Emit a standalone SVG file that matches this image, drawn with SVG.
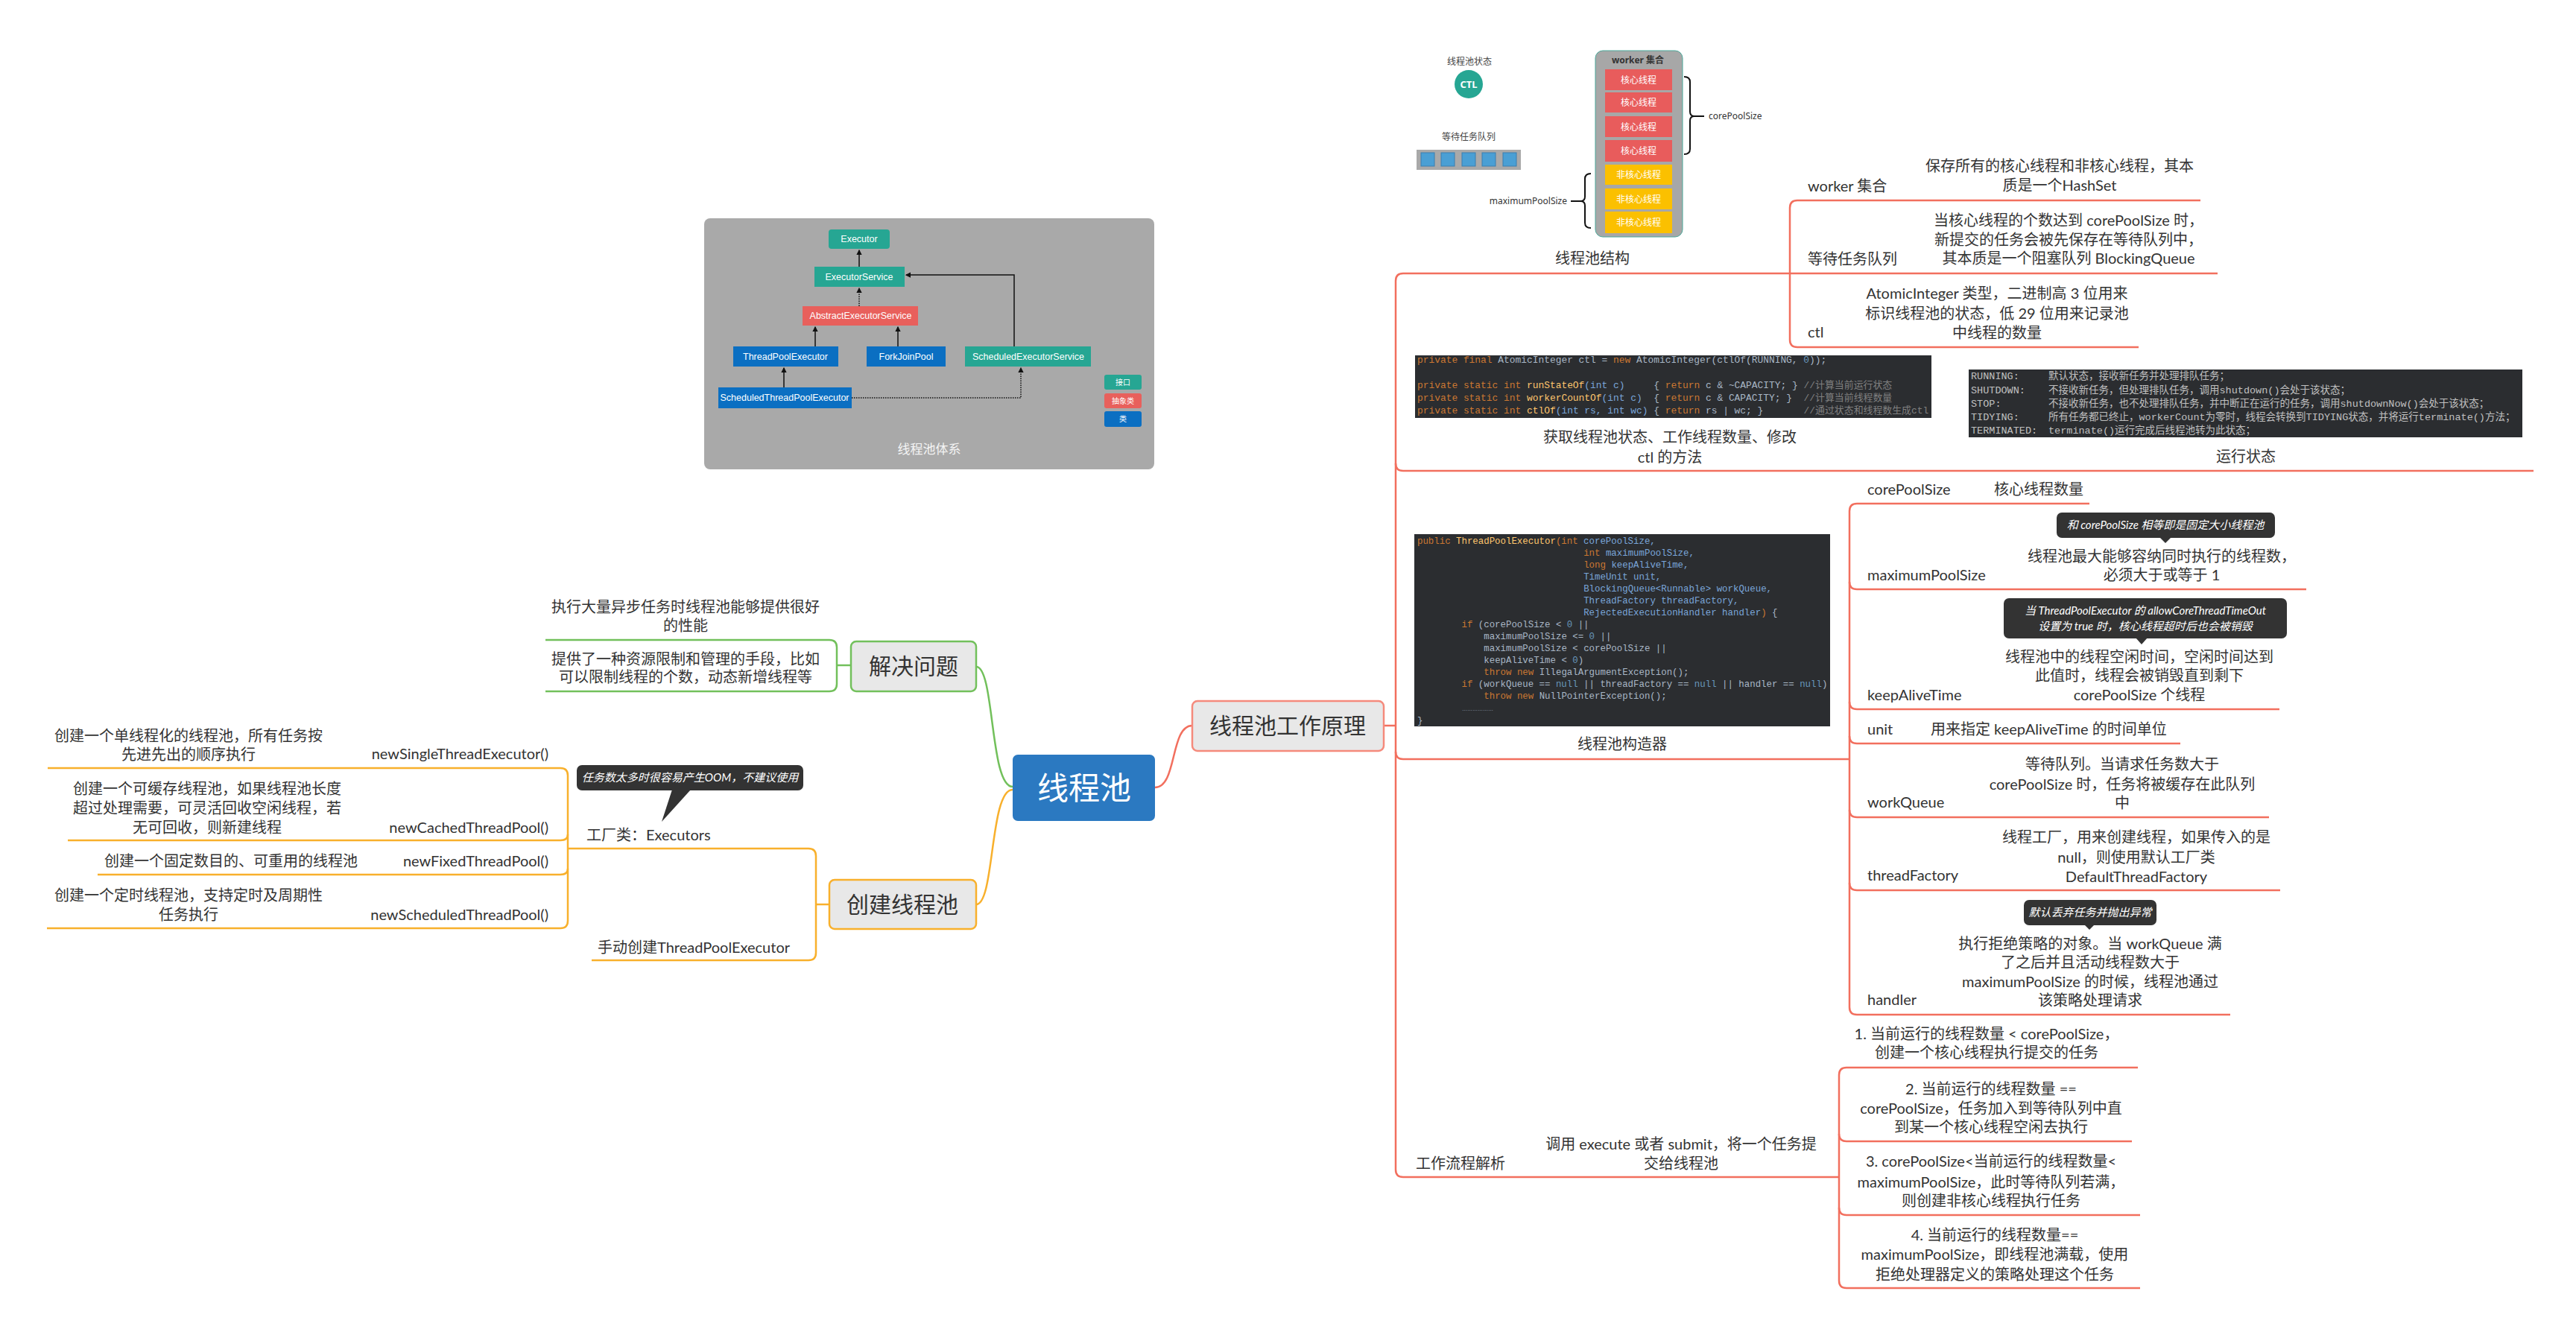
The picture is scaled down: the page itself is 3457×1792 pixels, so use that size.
<svg xmlns="http://www.w3.org/2000/svg" width="3457" height="1792" viewBox="0 0 3457 1792">
<defs>
<style>
.t{font-family:Lato,"Noto Sans CJK SC",sans-serif;font-size:20px;fill:#333}
.m{text-anchor:middle}
.e{text-anchor:end}
.lr{stroke:#f26f5e;fill:none;stroke-width:2.5}
.lg{stroke:#72c05b;fill:none;stroke-width:2.5}
.lo{stroke:#f8b02c;fill:none;stroke-width:2.5}
.topic{fill:#e8e8e8;stroke-width:2.5}
.tip{fill:#333}
.tipt{font-family:Lato,"Noto Sans CJK SC",sans-serif;font-size:15px;font-style:italic;fill:#fff;text-anchor:middle}
.code{font-family:"Liberation Mono","Noto Sans CJK SC",monospace}
.kw{fill:#cc7832}.pl{fill:#a9b7c6}.fn{fill:#ffc66d}.nu{fill:#6897bb}.pa{fill:#7aa6da}.cm{fill:#808080}
.hn{font-family:"Liberation Sans","Noto Sans CJK SC",sans-serif;font-size:12.5px;fill:#fff;text-anchor:middle}
.st{font-family:"Noto Sans","Noto Sans CJK SC",sans-serif;font-size:12px;text-anchor:middle}
.arr{stroke:#111;stroke-width:1.5;fill:none}
</style>
<marker id="ah" viewBox="0 0 6 6" refX="5" refY="3" markerWidth="5" markerHeight="5" orient="auto"><path d="M0,0 L6,3 L0,6z" fill="#111"/></marker>
</defs>
<rect width="3457" height="1792" fill="#fff"/>

<g id="connectors">
<path class="lr" d="M1550,1057 C1580,1057 1570,974 1600,974"/>
<path class="lg" d="M1359,1056 C1328,1056 1335,895 1310,895"/>
<path class="lo" d="M1359,1060 C1328,1060 1335,1214 1310,1214"/>
<path class="lg" d="M1142,893 H1123"/>
<path class="lg" d="M732,859 H1113 Q1123,859 1123,869 V918 Q1123,928 1113,928 H732"/>
<path class="lo" d="M1113,1214 H1095"/>
<path class="lo" d="M762,1139 H1085 Q1095,1139 1095,1149 V1279 Q1095,1289 1085,1289 H794"/>
<path class="lo" d="M64,1031 H752 Q762,1031 762,1041 V1236 Q762,1246 752,1246 H63"/>
<path class="lo" d="M91,1128 H752 Q762,1128 762,1120"/>
<path class="lo" d="M131,1174 H752 Q762,1174 762,1166"/>
<path class="lr" d="M1857,974 H1873"/>
<path class="lr" d="M2976,367 H1883 Q1873,367 1873,377 V1570 Q1873,1580 1883,1580 H2468"/>
<path class="lr" d="M1873,622 Q1873,632 1883,632 H3400"/>
<path class="lr" d="M1873,1009 Q1873,1019 1883,1019 H2482"/>
<path class="lr" d="M2953,269 H2412 Q2402,269 2402,279 V456 Q2402,466 2412,466 H2870"/>
<path class="lr" d="M2804,676 H2492 Q2482,676 2482,686 V1352 Q2482,1362 2492,1362 H2993"/>
<path class="lr" d="M2482,781 Q2482,791 2492,791 H3095"/>
<path class="lr" d="M2482,942 Q2482,952 2492,952 H3059"/>
<path class="lr" d="M2482,988 Q2482,998 2492,998 H2926"/>
<path class="lr" d="M2482,1087 Q2482,1097 2492,1097 H3045"/>
<path class="lr" d="M2482,1185 Q2482,1195 2492,1195 H3060"/>
<path class="lr" d="M2869,1433 H2478 Q2468,1433 2468,1443 V1719 Q2468,1729 2478,1729 H2872"/>
<path class="lr" d="M2468,1522 Q2468,1532 2478,1532 H2861"/>
<path class="lr" d="M2468,1621 Q2468,1631 2478,1631 H2872"/>
</g>

<g id="n-root">
<rect x="1359" y="1013" width="191" height="89" rx="7" fill="#2b79c1"/>
<text class="t m" x="1455" y="1073" style="font-size:42px;fill:#fff">线程池</text>
</g>

<g id="n-principle">
<rect class="topic" x="1600" y="941" width="257" height="67" rx="7" stroke="#f58a7c"/>
<text class="t m" x="1728" y="985" style="font-size:30px">线程池工作原理</text>
</g>

<g id="n-solve">
<rect class="topic" x="1142" y="861" width="168" height="67" rx="7" stroke="#72c05b"/>
<text class="t m" x="1226" y="905" style="font-size:30px">解决问题</text>
</g>
<g id="n-solve-1"><text class="t m" x="920" y="822">执行大量异步任务时线程池能够提供很好</text><text class="t m" x="920" y="847">的性能</text></g>
<g id="n-solve-2"><text class="t m" x="920" y="892">提供了一种资源限制和管理的手段，比如</text><text class="t m" x="920" y="916">可以限制线程的个数，动态新增线程等</text></g>

<g id="n-create">
<rect class="topic" x="1113" y="1181" width="197" height="66" rx="7" stroke="#f8b02c"/>
<text class="t m" x="1211" y="1225" style="font-size:30px">创建线程池</text>
</g>
<g id="n-executors">
<text class="t" x="787" y="1128">工厂类：Executors</text>
<rect class="tip" x="774" y="1027" width="304" height="34" rx="7"/>
<polygon class="tip" points="902,1060 927,1060 888,1103"/>
<text class="tipt" x="926" y="1049">任务数太多时很容易产生OOM，不建议使用</text>
</g>
<g id="n-single"><text class="t e" x="736" y="1019">newSingleThreadExecutor()</text><text class="t m" x="253" y="995">创建一个单线程化的线程池，所有任务按</text><text class="t m" x="253" y="1020">先进先出的顺序执行</text></g>
<g id="n-cached"><text class="t e" x="736" y="1118">newCachedThreadPool()</text><text class="t m" x="278" y="1066">创建一个可缓存线程池，如果线程池长度</text><text class="t m" x="278" y="1092">超过处理需要，可灵活回收空闲线程，若</text><text class="t m" x="278" y="1118">无可回收，则新建线程</text></g>
<g id="n-fixed"><text class="t e" x="736" y="1163">newFixedThreadPool()</text><text class="t m" x="310" y="1163">创建一个固定数目的、可重用的线程池</text></g>
<g id="n-scheduled"><text class="t e" x="736" y="1235">newScheduledThreadPool()</text><text class="t m" x="253" y="1209">创建一个定时线程池，支持定时及周期性</text><text class="t m" x="253" y="1235">任务执行</text></g>
<g id="n-manual"><text class="t" x="802" y="1279">手动创建ThreadPoolExecutor</text></g>

<g id="n-hierarchy">
<rect x="945" y="293" width="604" height="337" rx="8" fill="#a9a9a9"/>
<rect x="1112" y="308" width="82" height="26" rx="4" fill="#26a693"/>
<text class="hn" x="1153" y="325">Executor</text>
<rect x="1093" y="358" width="121" height="27" fill="#26a693"/>
<text class="hn" x="1153" y="376">ExecutorService</text>
<rect x="1077" y="411" width="155" height="26" fill="#e8605c"/>
<text class="hn" x="1155" y="428">AbstractExecutorService</text>
<rect x="984" y="465" width="141" height="27" fill="#0b6fc2"/>
<text class="hn" x="1054" y="483">ThreadPoolExecutor</text>
<rect x="1163" y="465" width="106" height="27" fill="#0b6fc2"/>
<text class="hn" x="1216" y="483">ForkJoinPool</text>
<rect x="1295" y="465" width="169" height="27" fill="#26a693"/>
<text class="hn" x="1380" y="483">ScheduledExecutorService</text>
<rect x="964" y="520" width="179" height="28" fill="#0b6fc2"/>
<text class="hn" x="1053" y="538">ScheduledThreadPoolExecutor</text>
<rect x="1482" y="503" width="50" height="20" rx="3" fill="#26a693"/>
<text class="hn" x="1507" y="517" style="font-size:10px">接口</text>
<rect x="1482" y="528" width="50" height="20" rx="3" fill="#e8605c"/>
<text class="hn" x="1507" y="542" style="font-size:10px">抽象类</text>
<rect x="1482" y="552" width="50" height="21" rx="3" fill="#0b6fc2"/>
<text class="hn" x="1507" y="566" style="font-size:10px">类</text>
<text class="hn" x="1247" y="609" style="font-size:17px;fill:#f4f4f4">线程池体系</text>
<path class="arr" d="M1153,358 V336" marker-end="url(#ah)"/>
<path class="arr" d="M1153,411 V387" stroke-dasharray="1.5,1.5" marker-end="url(#ah)"/>
<path class="arr" d="M1094,465 V439" marker-end="url(#ah)"/>
<path class="arr" d="M1205,465 V439" marker-end="url(#ah)"/>
<path class="arr" d="M1361,465 V369 H1216" marker-end="url(#ah)"/>
<path class="arr" d="M1052,520 V494" marker-end="url(#ah)"/>
<path class="arr" d="M1143,534 H1370 V494" stroke-dasharray="1.5,1.5" marker-end="url(#ah)"/>
</g>

<g id="n-structure">
<text class="st" x="1972" y="87" fill="#444">线程池状态</text>
<circle cx="1971" cy="113" r="19" fill="#26a693"/>
<text class="st" x="1971" y="118" fill="#fff" style="font-weight:bold;font-size:13px">CTL</text>
<text class="st" x="1971" y="188" fill="#444">等待任务队列</text>
<rect x="1901" y="201" width="140" height="27" fill="#a9a9a9"/>
<rect x="1907" y="205" width="18" height="18" fill="#4a9fd4" stroke="#3a7fb0"/>
<rect x="1934" y="205" width="18" height="18" fill="#4a9fd4" stroke="#3a7fb0"/>
<rect x="1962" y="205" width="18" height="18" fill="#4a9fd4" stroke="#3a7fb0"/>
<rect x="1989" y="205" width="18" height="18" fill="#4a9fd4" stroke="#3a7fb0"/>
<rect x="2017" y="205" width="18" height="18" fill="#4a9fd4" stroke="#3a7fb0"/>
<rect x="2141" y="68" width="117" height="250" rx="10" fill="#a7a7a7" stroke="#4aa89a" stroke-width="1"/>
<text class="st" x="2198" y="85" fill="#333" style="font-weight:bold">worker 集合</text>
<rect x="2154" y="93" width="90" height="28" fill="#e85c5c"/>
<text class="st" x="2199" y="112" fill="#fff">核心线程</text>
<rect x="2154" y="124" width="90" height="27" fill="#e85c5c"/>
<text class="st" x="2199" y="142" fill="#fff">核心线程</text>
<rect x="2154" y="156" width="90" height="28" fill="#e85c5c"/>
<text class="st" x="2199" y="175" fill="#fff">核心线程</text>
<rect x="2154" y="188" width="90" height="29" fill="#e85c5c"/>
<text class="st" x="2199" y="207" fill="#fff">核心线程</text>
<rect x="2154" y="221" width="90" height="27" fill="#fbc000"/>
<text class="st" x="2199" y="239" fill="#fff">非核心线程</text>
<rect x="2154" y="253" width="90" height="28" fill="#fbc000"/>
<text class="st" x="2199" y="272" fill="#fff">非核心线程</text>
<rect x="2154" y="284" width="90" height="29" fill="#fbc000"/>
<text class="st" x="2199" y="303" fill="#fff">非核心线程</text>
<path d="M2260,103 Q2268,103 2268,110 V150 Q2268,156 2274,156 H2287 M2274,156 Q2268,156 2268,162 V200 Q2268,207 2260,207" fill="none" stroke="#111" stroke-width="2"/>
<text class="st" x="2293" y="160" fill="#333" style="text-anchor:start">corePoolSize</text>
<path d="M2135,233 Q2127,233 2127,240 V264 Q2127,270 2121,270 H2108 M2121,270 Q2127,270 2127,276 V299 Q2127,306 2135,306" fill="none" stroke="#111" stroke-width="2"/>
<text class="st" x="2103" y="274" fill="#333" style="text-anchor:end">maximumPoolSize</text>
<text class="t m" x="2137" y="354">线程池结构</text>
</g>

<g id="n-worker"><text class="t" x="2426" y="257">worker 集合</text><text class="t m" x="2764" y="230">保存所有的核心线程和非核心线程，其本</text><text class="t m" x="2764" y="256">质是一个HashSet</text></g>
<g id="n-queue"><text class="t" x="2426" y="355">等待任务队列</text><text class="t m" x="2776" y="303">当核心线程的个数达到 corePoolSize 时，</text><text class="t m" x="2776" y="329">新提交的任务会被先保存在等待队列中，</text><text class="t m" x="2776" y="354">其本质是一个阻塞队列 BlockingQueue</text></g>
<g id="n-ctl"><text class="t" x="2426" y="453">ctl</text><text class="t m" x="2680" y="401">AtomicInteger 类型，二进制高 3 位用来</text><text class="t m" x="2680" y="428">标识线程池的状态，低 29 位用来记录池</text><text class="t m" x="2680" y="454">中线程的数量</text></g>

<g id="n-ctlmethods">
<rect x="1899" y="477" width="693" height="84" fill="#2b2d30"/>
<g class="code" style="font-size:12.9px">
<text x="1902" y="487"><tspan class="kw">private final </tspan><tspan class="pl">AtomicInteger ctl = </tspan><tspan class="kw">new </tspan><tspan class="pl">AtomicInteger(ctlOf(RUNNING, </tspan><tspan class="nu">0</tspan><tspan class="pl">));</tspan></text>
<text x="1902" y="521"><tspan class="kw">private static int </tspan><tspan class="fn">runStateOf</tspan><tspan class="pa">(int c)</tspan><tspan class="pl" x="2219.3">{ </tspan><tspan class="kw">return </tspan><tspan class="pl">c &amp; ~CAPACITY; }</tspan><tspan class="cm" x="2420.6">//计算当前运行状态</tspan></text>
<text x="1902" y="538"><tspan class="kw">private static int </tspan><tspan class="fn">workerCountOf</tspan><tspan class="pa">(int c)</tspan><tspan class="pl" x="2219.3">{ </tspan><tspan class="kw">return </tspan><tspan class="pl">c &amp; CAPACITY; }</tspan><tspan class="cm" x="2420.6">//计算当前线程数量</tspan></text>
<text x="1902" y="555"><tspan class="kw">private static int </tspan><tspan class="fn">ctlOf</tspan><tspan class="pa">(int rs, int wc)</tspan><tspan class="pl" x="2219.3">{ </tspan><tspan class="kw">return </tspan><tspan class="pl">rs | wc; }</tspan><tspan class="cm" x="2420.6">//通过状态和线程数生成ctl</tspan></text>
</g>
<text class="t m" x="2241" y="594">获取线程池状态、工作线程数量、修改</text>
<text class="t m" x="2241" y="621">ctl 的方法</text>
</g>

<g id="n-runstate">
<rect x="2642" y="496" width="743" height="91" fill="#2b2d30"/>
<g class="code" style="font-size:13.5px;fill:#c0c0c0">
<text x="2645" y="509">RUNNING:</text><text x="2749" y="509">默认状态，接收新任务并处理排队任务；</text>
<text x="2645" y="528">SHUTDOWN:</text><text x="2749" y="528">不接收新任务，但处理排队任务，调用shutdown()会处于该状态；</text>
<text x="2645" y="546">STOP:</text><text x="2749" y="546">不接收新任务，也不处理排队任务，并中断正在运行的任务，调用shutdownNow()会处于该状态；</text>
<text x="2645" y="564">TIDYING:</text><text x="2749" y="564">所有任务都已终止，workerCount为零时，线程会转换到TIDYING状态，并将运行terminate()方法；</text>
<text x="2645" y="582">TERMINATED:</text><text x="2749" y="582">terminate()运行完成后线程池转为此状态；</text>
</g>
<text class="t m" x="3014" y="620">运行状态</text>
</g>

<g id="n-ctor">
<rect x="1898" y="717" width="558" height="258" fill="#2b2d30"/>
<g class="code" style="font-size:12.4px">
<text x="1902" y="730"><tspan class="kw">public </tspan><tspan class="fn">ThreadPoolExecutor</tspan><tspan class="kw">(int </tspan><tspan class="pa">corePoolSize,</tspan></text>
<text x="2125.2" y="746"><tspan class="kw">int </tspan><tspan class="pa">maximumPoolSize,</tspan></text>
<text x="2125.2" y="762"><tspan class="kw">long </tspan><tspan class="pa">keepAliveTime,</tspan></text>
<text x="2125.2" y="778" class="pa">TimeUnit unit,</text>
<text x="2125.2" y="794" class="pa">BlockingQueue&lt;Runnable&gt; workQueue,</text>
<text x="2125.2" y="810" class="pa">ThreadFactory threadFactory,</text>
<text x="2125.2" y="826"><tspan class="pa">RejectedExecutionHandler handler</tspan><tspan class="kw">) </tspan><tspan class="pl">{</tspan></text>
<text x="1961.5" y="842"><tspan class="kw">if </tspan><tspan class="pl">(corePoolSize &lt; </tspan><tspan class="nu">0 </tspan><tspan class="pl">||</tspan></text>
<text x="1991.3" y="858"><tspan class="pl">maximumPoolSize &lt;= </tspan><tspan class="nu">0 </tspan><tspan class="pl">||</tspan></text>
<text x="1991.3" y="874" class="pl">maximumPoolSize &lt; corePoolSize ||</text>
<text x="1991.3" y="890"><tspan class="pl">keepAliveTime &lt; </tspan><tspan class="nu">0</tspan><tspan class="pl">)</tspan></text>
<text x="1991.3" y="906"><tspan class="kw">throw new </tspan><tspan class="pl">IllegalArgumentException();</tspan></text>
<text x="1961.5" y="922"><tspan class="kw">if </tspan><tspan class="pl">(workQueue == </tspan><tspan class="nu">null </tspan><tspan class="pl">|| threadFactory == </tspan><tspan class="nu">null </tspan><tspan class="pl">|| handler == </tspan><tspan class="nu">null</tspan><tspan class="pl">)</tspan></text>
<text x="1991.3" y="938"><tspan class="kw">throw new </tspan><tspan class="pl">NullPointerException();</tspan></text>
<text x="1962" y="954" class="pl" style="font-family:'Liberation Sans',sans-serif;font-size:7px">………………</text>
<text x="1902" y="971" class="pl">}</text>
</g>
<text class="t m" x="2177" y="1006">线程池构造器</text>
</g>

<g id="n-core"><text class="t" x="2506" y="664">corePoolSize</text><text class="t" x="2676" y="664">核心线程数量</text></g>
<g id="n-max">
<text class="t" x="2506" y="779">maximumPoolSize</text>
<text class="t m" x="2901" y="754">线程池最大能够容纳同时执行的线程数，</text><text class="t m" x="2901" y="779">必须大于或等于 1</text>
<rect class="tip" x="2760" y="688" width="293" height="34" rx="7"/>
<polygon class="tip" points="2898,721 2914,721 2906,729"/>
<text class="tipt" x="2906" y="710">和 corePoolSize 相等即是固定大小线程池</text>
</g>
<g id="n-keep">
<text class="t" x="2506" y="940">keepAliveTime</text>
<text class="t m" x="2871" y="889">线程池中的线程空闲时间，空闲时间达到</text><text class="t m" x="2871" y="914">此值时，线程会被销毁直到剩下</text><text class="t m" x="2871" y="940">corePoolSize 个线程</text>
<rect class="tip" x="2689" y="803" width="380" height="54" rx="7"/>
<polygon class="tip" points="2866,856 2882,856 2874,865"/>
<text class="tipt" x="2879" y="825">当 ThreadPoolExecutor 的 allowCoreThreadTimeOut</text>
<text class="tipt" x="2879" y="846">设置为 true 时，核心线程超时后也会被销毁</text>
</g>
<g id="n-unit"><text class="t" x="2506" y="986">unit</text><text class="t" x="2591" y="986">用来指定 keepAliveTime 的时间单位</text></g>
<g id="n-wq"><text class="t" x="2506" y="1084">workQueue</text><text class="t m" x="2848" y="1033">等待队列。当请求任务数大于</text><text class="t m" x="2848" y="1060">corePoolSize 时，任务将被缓存在此队列</text><text class="t m" x="2848" y="1085">中</text></g>
<g id="n-tf"><text class="t" x="2506" y="1182">threadFactory</text><text class="t m" x="2867" y="1131">线程工厂，用来创建线程，如果传入的是</text><text class="t m" x="2867" y="1158">null，则使用默认工厂类</text><text class="t m" x="2867" y="1184">DefaultThreadFactory</text></g>
<g id="n-handler">
<text class="t" x="2506" y="1349">handler</text>
<text class="t m" x="2805" y="1274">执行拒绝策略的对象。当 workQueue 满</text><text class="t m" x="2805" y="1299">了之后并且活动线程数大于</text><text class="t m" x="2805" y="1325">maximumPoolSize 的时候，线程池通过</text><text class="t m" x="2805" y="1350">该策略处理请求</text>
<rect class="tip" x="2716" y="1208" width="178" height="34" rx="7"/>
<polygon class="tip" points="2797,1241 2811,1241 2804,1248"/>
<text class="tipt" x="2805" y="1230">默认丢弃任务并抛出异常</text>
</g>

<g id="n-flow"><text class="t" x="1900" y="1569">工作流程解析</text></g>
<g id="n-submit"><text class="t m" x="2256" y="1543">调用 execute 或者 submit，将一个任务提</text><text class="t m" x="2256" y="1569">交给线程池</text></g>
<g id="n-step1"><text class="t m" x="2666" y="1395">1. 当前运行的线程数量 &lt; corePoolSize，</text><text class="t m" x="2666" y="1420">创建一个核心线程执行提交的任务</text></g>
<g id="n-step2"><text class="t m" x="2672" y="1469">2. 当前运行的线程数量 ==</text><text class="t m" x="2672" y="1495">corePoolSize，任务加入到等待队列中直</text><text class="t m" x="2672" y="1520">到某一个核心线程空闲去执行</text></g>
<g id="n-step3"><text class="t m" x="2672" y="1566">3. corePoolSize&lt;当前运行的线程数量&lt;</text><text class="t m" x="2672" y="1594">maximumPoolSize，此时等待队列若满，</text><text class="t m" x="2672" y="1619">则创建非核心线程执行任务</text></g>
<g id="n-step4"><text class="t m" x="2677" y="1665">4. 当前运行的线程数量==</text><text class="t m" x="2677" y="1691">maximumPoolSize，即线程池满载，使用</text><text class="t m" x="2677" y="1718">拒绝处理器定义的策略处理这个任务</text></g>
</svg>
